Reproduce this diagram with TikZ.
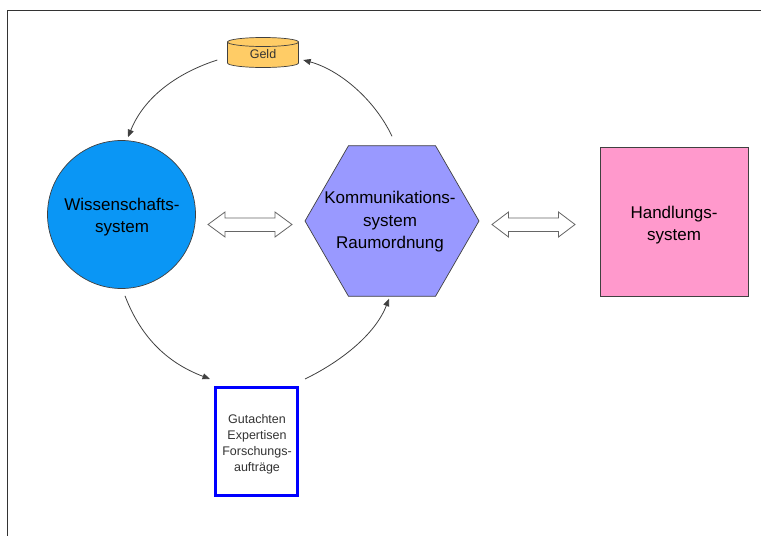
\documentclass[tikz,border=0pt]{standalone}
\usepackage{fontspec}
\setmainfont{Liberation Sans}
\usetikzlibrary{arrows.meta,calc,shapes.geometric}

\definecolor{frameline}{HTML}{333333}
\definecolor{wissblue}{HTML}{0A96F5}
\definecolor{kommviolet}{HTML}{9999FF}
\definecolor{handpink}{HTML}{FF99CC}
\definecolor{geldgold}{HTML}{FFCC66}
\definecolor{edgegray}{HTML}{404040}

\tikzset{
  bigtext/.style={font=\fontsize{17}{22.5}\selectfont, align=center, text=black},
  smalltext/.style={font=\fontsize{12.5}{16}\selectfont, align=center, text=black!80},
  flow/.style={draw=edgegray, line width=0.8pt, -{Triangle[length=7.5pt,width=6pt]}},
  twoway/.style={draw=edgegray!80, line width=0.8pt, fill=white, line join=miter},
  outline/.style={draw=edgegray, line width=0.7pt}
}

\begin{document}
\begin{tikzpicture}[x=1pt, y=-1pt]
  \useasboundingbox (0,0) rectangle (761,536);

  % frame (top and left edges)
  \draw[frameline, line width=1pt] (761,10) -- (7,10) -- (7,536);

  % money store: cylinder
  \node[minimum width=71pt, minimum height=30pt, inner sep=0] (geld) at (263,53) {};
  \path[outline, fill=geldgold]
    (227.5,42) -- (227.5,63)
    arc[start angle=180, end angle=360, x radius=35.5pt, y radius=4.5pt]
    -- (298.5,42) -- cycle;
  \draw[outline, fill=geldgold] (263,42) ellipse [x radius=35.5pt, y radius=4.5pt];
  \node[smalltext] (geldtext) at (263,54.5) {Geld};

  % science system
  \node[circle, outline, fill=wissblue, minimum size=148pt, inner sep=0] (wiss) at (121.5,214.5) {};
  \node[bigtext] (wisstext) at (122,217) {Wissenschafts-\\system};

  % communication system
  \node[regular polygon, regular polygon sides=6, outline, fill=kommviolet,
        minimum size=174pt, inner sep=0] (komm) at (392,221) {};
  \node[bigtext] (kommtext) at (390,222) {Kommunikations-\\system\\Raumordnung};

  % action system
  \node[rectangle, outline, fill=handpink, minimum width=148pt, minimum height=149pt, inner sep=0]
    (hand) at (674,221.5) {};
  \node[bigtext] (handtext) at (674,225) {Handlungs-\\system};

  % reports box
  \node[rectangle, draw=blue, line width=3pt, fill=white, minimum width=82pt, minimum height=108pt, inner sep=0]
    (gut) at (256.5,441.5) {};
  \node[smalltext] (guttext) at (257,444) {Gutachten\\Expertisen\\Forschungs-\\aufträge};

  % two-way exchange arrows
  \draw[twoway] (208,224.5) -- (225,212) -- (225,218) -- (275,218) -- (275,212) -- (292,224.5)
    -- (275,237) -- (275,231.5) -- (225,231.5) -- (225,237) -- cycle;
  \draw[twoway] (492,224.5) -- (508.5,212) -- (508.5,218) -- (558.5,218) -- (558.5,212) -- (575,224.5)
    -- (558.5,237) -- (558.5,231.5) -- (508.5,231.5) -- (508.5,237) -- cycle;

  % cycle of flows
  \draw[flow] ($(geld.west)+(-10,7)$) .. controls (180,72) and (145,95) .. ($(wiss.north)+(6.5,-3)$);
  \draw[flow] ($(komm.north)+(0,-9)$) .. controls (375,100) and (340,70) .. ($(geld.east)+(4.5,7)$);
  \draw[flow] ($(wiss.south)+(3.5,7)$) .. controls (140,335) and (165,362) .. ($(gut.north west)+(-4,-7)$);
  \draw[flow] ($(gut.north east)+(6,-7)$) .. controls (340,362) and (375,335) .. ($(komm.south)+(-3,2)$);
\end{tikzpicture}
\end{document}
